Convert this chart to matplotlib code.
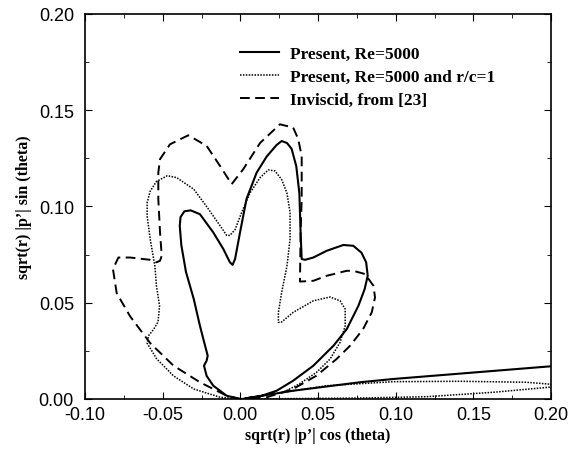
import matplotlib
matplotlib.use("Agg")
from matplotlib import pyplot as plt
from matplotlib.ticker import MultipleLocator, FormatStrFormatter

# Present, Re=5000 (solid)
solid_x = [0.0, -0.0088, -0.0174, -0.0217, -0.0234, -0.0217, -0.021, -0.0228, -0.026, -0.030, -0.035,
           -0.038, -0.039, -0.0385, -0.036, -0.032, -0.026, -0.0174, -0.011, -0.0067, -0.005, -0.0034,
           -0.0002, 0.004, 0.0105, 0.017, 0.0234, 0.0266, 0.030, 0.033, 0.036, 0.038, 0.0388, 0.0395,
           0.0416, 0.047, 0.0556, 0.0663, 0.0727, 0.078, 0.081, 0.082, 0.080, 0.076, 0.0685, 0.060,
           0.047, 0.034, 0.0234, 0.0127, 0.003, 0.021, 0.034, 0.077, 0.0985, 0.2]
solid_y = [0.0, 0.0017, 0.0069, 0.012, 0.0173, 0.0199, 0.0225, 0.028, 0.038, 0.052, 0.066,
           0.080, 0.090, 0.0945, 0.0975, 0.098, 0.096, 0.0865, 0.078, 0.071, 0.0697, 0.0727,
           0.0865, 0.104, 0.1176, 0.126, 0.132, 0.134, 0.133, 0.130, 0.121, 0.107, 0.0865, 0.0727,
           0.0723, 0.0735, 0.077, 0.080, 0.0796, 0.076, 0.071, 0.064, 0.057, 0.0484, 0.0363, 0.0277,
           0.0173, 0.0095, 0.0043, 0.0014, 0.0003, 0.0026, 0.0043, 0.0087, 0.0104, 0.017]

# Present, Re=5000 and r/c=1 (dotted)
dot_x = [0.0, -0.013, -0.030, -0.043, -0.054, -0.060, -0.059, -0.056, -0.053, -0.052, -0.054,
         -0.055, -0.058, -0.060, -0.060, -0.058, -0.054, -0.047, -0.041, -0.030, -0.0217, -0.013,
         -0.0088, -0.0067, -0.0034, 0.0009, 0.0062, 0.0127, 0.018, 0.0223, 0.0266, 0.030, 0.032,
         0.032, 0.030, 0.0266, 0.0245, 0.0245, 0.0266, 0.034, 0.047, 0.0578, 0.0642, 0.0675, 0.0675,
         0.0642, 0.0578, 0.049, 0.038, 0.0277, 0.0556, 0.0985, 0.1416, 0.184, 0.198, 0.205,
         0.200, 0.163, 0.120, 0.077, 0.0]
dot_y = [0.0, 0.0009, 0.0052, 0.012, 0.021, 0.029, 0.033, 0.036, 0.040, 0.0484, 0.0588,
         0.069, 0.083, 0.095, 0.102, 0.108, 0.113, 0.116, 0.115, 0.109, 0.100, 0.090,
         0.085, 0.085, 0.088, 0.097, 0.107, 0.115, 0.119, 0.1185, 0.114, 0.107, 0.097,
         0.083, 0.069, 0.0554, 0.045, 0.0398, 0.040, 0.045, 0.051, 0.053, 0.051, 0.0467, 0.038,
         0.0294, 0.0208, 0.0138, 0.0078, 0.0035, 0.0069, 0.009, 0.0092, 0.0087, 0.0078, 0.0068,
         0.0062, 0.0035, 0.0012, 0.0005, 0.0]

# Inviscid, from [23] (dashed)
dash_x = [0.0, -0.0088, -0.026, -0.043, -0.058, -0.071, -0.0796, -0.082, -0.0785, -0.071, -0.058,
          -0.054, -0.0517, -0.0506, -0.0517, -0.0528, -0.0528, -0.0517, -0.0453, -0.0335, -0.0217,
          -0.013, -0.0056, 0.0019, 0.0127, 0.0255, 0.034, 0.0373, 0.0395, 0.0395, 0.0388, 0.0384,
          0.047, 0.0556, 0.0685, 0.0727, 0.0803, 0.0857, 0.0867, 0.0846, 0.079, 0.0707, 0.062,
          0.049, 0.034, 0.017, 0.0]
dash_y = [0.0, 0.0017, 0.0087, 0.0173, 0.029, 0.043, 0.055, 0.0675, 0.0735, 0.0735, 0.0723,
          0.071, 0.0718, 0.0744, 0.0865, 0.1038, 0.1176, 0.1246, 0.1323, 0.137, 0.1315,
          0.121, 0.1116, 0.1194, 0.133, 0.1427, 0.141, 0.135, 0.126, 0.1038, 0.0865, 0.061,
          0.0614, 0.064, 0.0666, 0.0666, 0.0649, 0.0588, 0.0528, 0.045, 0.0363, 0.0277, 0.0208,
          0.0121, 0.0052, 0.0009, 0.0]

labels = ["Present, Re=5000", "Present, Re=5000 and r/c=1", "Inviscid, from [23]"]

plt.rc('font', family=['Liberation Sans'], size=10)
fig = plt.figure(figsize=[5.68, 4.52], dpi=100)
ax = fig.add_axes([85 / 568, 52 / 452, 466 / 568, 385 / 452])

ax.plot(solid_x, solid_y, color="black", lw=1.5, label=labels[0])
ax.plot(dot_x, dot_y, color="black", lw=1.1, dashes=(1, 0.9), label=labels[1])
ax.plot(dash_x, dash_y, color="black", lw=1.4, dashes=(5, 2.8), label=labels[2])

ax.set_xlim(-0.1, 0.2)
ax.set_ylim(0, 0.2)
ax.xaxis.set_major_locator(MultipleLocator(0.05))
ax.yaxis.set_major_locator(MultipleLocator(0.05))
ax.xaxis.set_minor_locator(MultipleLocator(0.025))
ax.yaxis.set_minor_locator(MultipleLocator(0.025))
ax.xaxis.set_major_formatter(FormatStrFormatter('%.2f'))
ax.yaxis.set_major_formatter(FormatStrFormatter('%.2f'))
ax.tick_params(which='both', direction='in', top=True, right=True, labelsize=13)
ax.tick_params(axis='x', which='major', pad=5)
ax.tick_params(axis='y', which='major', pad=8)
ax.tick_params(which='major', length=5)
ax.tick_params(which='minor', length=3)
for s in ax.spines.values():
    s.set_linewidth(1.2)

ax.set_xlabel("sqrt(r) |p\u2019| cos (theta)", family='Liberation Serif', weight='bold', size=11.5, labelpad=3)
ax.set_ylabel("sqrt(r) |p\u2019| sin (theta)", family='Liberation Serif', weight='bold', size=11.5, labelpad=5)

ax.legend(loc='upper left', bbox_to_anchor=(0.315, 0.94), frameon=False, borderpad=0,
          handlelength=2.2, handletextpad=0.65, labelspacing=0.4,
          prop={'family': 'Liberation Serif', 'weight': 'bold', 'size': 12.5})

plt.savefig("out.png", dpi=100)
